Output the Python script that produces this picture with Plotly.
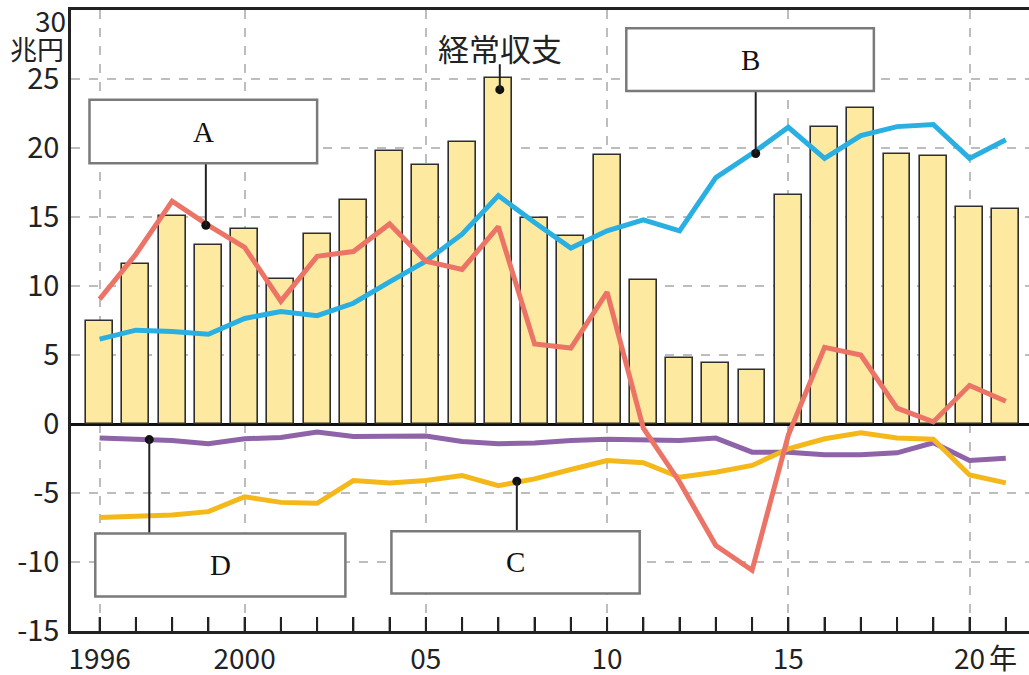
import plotly.graph_objects as go

# ---- data (trillion yen) ----
years = list(range(1996, 2022))
current_account = [7.5, 11.6, 15.1, 13.0, 14.1, 10.5, 13.75, 16.2, 19.8, 18.8, 20.4, 25.1, 14.9,
                   13.65, 19.5, 10.45, 4.8, 4.45, 3.9, 16.6, 21.5, 22.9, 19.6, 19.4, 15.75, 15.55]
A_trade = [9.05, 12.3, 16.15, 14.4, 12.8, 8.9, 12.15, 12.5, 14.5, 11.8, 11.2, 14.3, 5.8,
           5.5, 9.55, -0.3, -4.2, -8.8, -10.6, -0.8, 5.55, 5.0, 1.15, 0.15, 2.8, 1.65]
B_primary = [6.15, 6.8, 6.7, 6.5, 7.65, 8.15, 7.85, 8.75, 10.3, 11.8, 13.75, 16.55, 14.6,
             12.75, 14.0, 14.8, 14.0, 17.85, 19.6, 21.5, 19.25, 20.9, 21.55, 21.7, 19.25, 20.6]
C_services = [-6.77, -6.65, -6.6, -6.35, -5.27, -5.68, -5.75, -4.1, -4.27, -4.1, -3.74, -4.47, -3.98,
              -3.3, -2.65, -2.8, -3.86, -3.5, -3.0, -1.8, -1.07, -0.63, -1.02, -1.1, -3.7, -4.27]
D_secondary = [-1.02, -1.1, -1.19, -1.43, -1.07, -0.97, -0.58, -0.9, -0.9, -0.87, -1.26, -1.43, -1.38,
               -1.19, -1.11, -1.11, -1.19, -1.02, -2.04, -2.04, -2.23, -2.23, -2.09, -1.36, -2.65, -2.48]

x_grid_years = [1996, 2000, 2005, 2010, 2015, 2020]
x_labels = {1996: "1996", 2000: "2000", 2005: "05", 2010: "10", 2015: "15", 2020: "20"}
y_tickvals = [-15, -10, -5, 0, 5, 10, 15, 20, 25]
y_ticktext = ["-15", "-10", "-5", "0", "5", "10", "15", "20", "25"]
Y_MIN, Y_MAX = -15, 30

# callout labels: (text, box x0, x1, y0, y1, anchor x, anchor y)
callouts = [
    ("A", 1995.72, 2002.0, 18.89, 23.5, 1998.93, 14.4),
    ("B", 2010.53, 2017.36, 24.13, 28.67, 2014.1, 19.6),
    ("D", 1995.88, 2002.78, -12.5, -7.94, 1997.37, -1.13),
    ("C", 2004.05, 2010.9, -12.29, -7.77, 2007.51, -4.15),
]
ca_label = ("経常収支", 2007.04, 27.3, 26.07, 24.23)

SANS = "Noto Sans CJK JP"
SERIF = "Liberation Serif"

fig = go.Figure()
fig.add_trace(go.Bar(x=years, y=current_account, width=0.74,
                     marker=dict(color="#FDEAA0", line=dict(color="#2e2e2e", width=1.6)),
                     showlegend=False))
fig.add_trace(go.Scatter(x=years, y=D_secondary, mode="lines",
                         line=dict(color="#8E63A8", width=5), showlegend=False))
fig.add_trace(go.Scatter(x=years, y=C_services, mode="lines",
                         line=dict(color="#F4B81A", width=5), showlegend=False))
fig.add_trace(go.Scatter(x=years, y=B_primary, mode="lines",
                         line=dict(color="#2AAFE2", width=5), showlegend=False))
fig.add_trace(go.Scatter(x=years, y=A_trade, mode="lines",
                         line=dict(color="#EB7466", width=5), showlegend=False))

shapes = []
annotations = []

# yearly inside tick marks along the bottom axis (14 px tall, anchored to the axis)
for yr in years:
    shapes.append(dict(type="line", xref="x", yref="paper", ysizemode="pixel", yanchor=0,
                       x0=yr, x1=yr, y0=0, y1=14,
                       line=dict(color="#222222", width=2), layer="above"))

dot_x, dot_y = [], []
for text, x0, x1, y0, y1, ax, ay in callouts:
    end = y1 if ay > y1 else y0
    shapes.append(dict(type="line", xref="x", yref="y", x0=ax, x1=ax, y0=ay, y1=end,
                       line=dict(color="#222222", width=2), layer="above"))
    shapes.append(dict(type="rect", xref="x", yref="y", x0=x0, x1=x1, y0=y0, y1=y1,
                       fillcolor="white", line=dict(color="#7a7a7a", width=2.5), layer="above"))
    annotations.append(dict(x=(x0 + x1) / 2, y=(y0 + y1) / 2, xref="x", yref="y", text=text,
                            showarrow=False, font=dict(family=SERIF, size=29, color="#111111")))
    dot_x.append(ax)
    dot_y.append(ay)

t, cx, ty, ly, dy = ca_label
shapes.append(dict(type="line", xref="x", yref="y", x0=cx, x1=cx, y0=dy, y1=ly,
                   line=dict(color="#222222", width=2), layer="above"))
annotations.append(dict(x=cx, y=ty, xref="x", yref="y", text=t, showarrow=False,
                        font=dict(family=SANS, size=31, color="#222222")))
dot_x.append(cx)
dot_y.append(dy)

fig.add_trace(go.Scatter(x=dot_x, y=dot_y, mode="markers",
                         marker=dict(color="#111111", size=9), showlegend=False))

# extra axis texts
annotations.append(dict(x=0, y=Y_MAX, xref="paper", yref="y", text="30", showarrow=False,
                        xanchor="right", yanchor="middle", xshift=-3, yshift=-10,
                        font=dict(family=SANS, size=28, color="#222222")))
annotations.append(dict(x=0, y=Y_MAX, xref="paper", yref="y", text="兆円", showarrow=False,
                        xanchor="right", yanchor="middle", xshift=-5, yshift=-38,
                        font=dict(family=SANS, size=27, color="#222222")))
annotations.append(dict(x=2020, y=Y_MIN, xref="x", yref="y", text="年", showarrow=False,
                        xanchor="left", yanchor="middle", xshift=17, yshift=-26,
                        font=dict(family=SANS, size=28, color="#222222")))

fig.update_layout(
    width=1029, height=675,
    margin=dict(l=71, r=0, t=10, b=44, autoexpand=False),
    plot_bgcolor="white", paper_bgcolor="white",
    bargap=0, shapes=shapes, annotations=annotations,
    xaxis=dict(range=[1995.21, 2021.64], tickmode="array", tickvals=years,
               ticktext=[x_labels.get(y, "") for y in years],
               ticks="inside", ticklen=14, tickwidth=2, tickcolor="#222222",
               showgrid=False,
               minor=dict(tickmode="array", tickvals=x_grid_years, ticks="", showgrid=True,
                          gridcolor="#bdbdbd", griddash="dash", gridwidth=1.5),
               showline=True, linecolor="#222222", linewidth=2.5, mirror=True,
               zeroline=False, ticklabelstandoff=2, automargin=False,
               tickfont=dict(family=SANS, size=28, color="#222222")),
    yaxis=dict(range=[Y_MIN, Y_MAX], tickvals=y_tickvals, ticktext=y_ticktext,
               ticks="", showgrid=True, gridcolor="#bdbdbd", griddash="dash", gridwidth=1.5,
               showline=True, linecolor="#222222", linewidth=2.5,
               zeroline=True, zerolinecolor="#111111", zerolinewidth=2.5,
               ticklabelstandoff=3, automargin=False,
               tickfont=dict(family=SANS, size=29, color="#222222")),
)

fig.write_html("out.html", config={"displayModeBar": False},
               post_script="document.body.style.margin='0';document.body.style.overflow='hidden';")
